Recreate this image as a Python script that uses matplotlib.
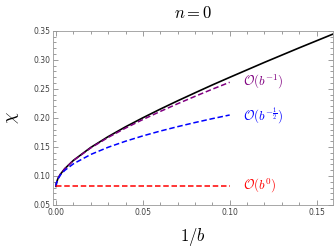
import matplotlib
matplotlib.use("Agg")
import matplotlib.pyplot as plt
from matplotlib.ticker import MultipleLocator, FormatStrFormatter

plt.rcParams['mathtext.fontset'] = 'cm'

# values
inv_b = [0.0, 0.0002, 0.001, 0.0025, 0.005, 0.01, 0.02, 0.03, 0.04,
         0.05, 0.06, 0.07, 0.08, 0.09, 0.10]
inv_b_full = inv_b + [0.12, 0.14, 0.16]

chi_exact = [0.082, 0.0876, 0.0949, 0.1029, 0.1124, 0.1268, 0.1491, 0.1677,
             0.1846, 0.2002, 0.2151, 0.2294, 0.2432, 0.2568, 0.2699,
             0.2957, 0.3207, 0.3451]
chi_order_m1 = [0.082, 0.0876, 0.0949, 0.1029, 0.1123, 0.1265, 0.1483, 0.1663,
                0.1824, 0.1972, 0.2111, 0.2244, 0.2371, 0.2495, 0.2614]
chi_order_mhalf = [0.082, 0.0875, 0.0943, 0.1015, 0.1095, 0.1209, 0.1370, 0.1494,
                   0.1598, 0.1690, 0.1773, 0.1849, 0.1920, 0.1987, 0.2050]
chi_order_0 = [0.082] * len(inv_b)

labels = [r'$\mathcal{O}(b^{-1})$', r'$\mathcal{O}(b^{-\frac{1}{2}})$', r'$\mathcal{O}(b^{0})$']
label_y = [0.262, 0.203, 0.082]
colors = ['#800080', '#0000ff', '#ff0000']

fig = plt.figure(figsize=(3.34, 2.49), dpi=100)
ax = fig.add_axes([0.159, 0.177, 0.838, 0.699])

ax.plot(inv_b_full, chi_exact, color='black', lw=1.2, zorder=3)
dash = (0, (3.6, 1.8))
ax.plot(inv_b, chi_order_m1, color=colors[0], lw=1.1, ls=dash, zorder=4)
ax.plot(inv_b, chi_order_mhalf, color=colors[1], lw=1.1, ls=dash, zorder=4)
ax.plot(inv_b, chi_order_0, color=colors[2], lw=1.1, ls=dash, zorder=4)

for lab, yy, c in zip(labels, label_y, colors):
    ax.text(0.1075, yy, lab, color=c, fontsize=9.3, va='center', ha='left')

ax.set_xlim(-0.0017, 0.1595)
ax.set_ylim(0.05, 0.35)
ax.xaxis.set_major_locator(MultipleLocator(0.05))
ax.xaxis.set_minor_locator(MultipleLocator(0.01))
ax.yaxis.set_major_locator(MultipleLocator(0.05))
ax.yaxis.set_minor_locator(MultipleLocator(0.01))
ax.xaxis.set_major_formatter(FormatStrFormatter('%.2f'))
ax.yaxis.set_major_formatter(FormatStrFormatter('%.2f'))

ax.tick_params(which='both', direction='in', top=True, right=True,
               colors='0.55', labelcolor='0.25', labelsize=5.5, width=0.6, pad=2)
ax.tick_params(which='major', length=3.5)
ax.tick_params(which='minor', length=2)
for s in ax.spines.values():
    s.set_color('0.6')
    s.set_linewidth(0.6)

ax.set_title(r'$n = 0$', fontsize=12, pad=9)
ax.set_xlabel(r'$1/b$', fontsize=12, labelpad=7)
ax.set_ylabel(r'$\chi$', fontsize=13, labelpad=9)

fig.savefig('out.png', dpi=100)
